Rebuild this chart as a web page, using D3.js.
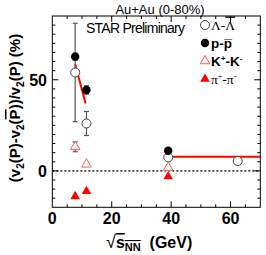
<!DOCTYPE html>
<html>
<head>
<meta charset="utf-8">
<script src="https://cdn.jsdelivr.net/npm/d3@7"></script>
<style>
  body { margin: 0; background: #fff; }
  svg { display: block; font-family: "Liberation Sans", Arial, sans-serif; }
</style>
</head>
<body>
<svg id="chart" width="266" height="255"></svg>
<script>
// values
const lambdaE = [7.7, 11.5, 39, 62.4];
const lambdaV = [54, 26, 7.4, 5.4];
const lambdaErr = [27, 6.6, 0.8, 1];

const protonE = [7.7, 11.5, 39];
const protonV = [62.7, 44.4, 11];
const protonErr = [2, 2.3, 0.6];

const kaonE = [7.7, 11.5, 39];
const kaonV = [13.2, 3.6, 1.8];
const kaonErr = [2.7, 0.5, 0.3];

const pionE = [7.7, 11.5, 39];
const pionV = [-14, -11.2, -3.1];

const fitLow = [[7.7, 58.5], [11.2, 37]];
const fitHigh = [[39.4, 7.8], [70, 7.8]];

const xMajor = [0, 20, 40, 60];
const yMajor = [0, 50];

const svg = d3.select('#chart');
const m = { left: 52.3, right: 260.3, top: 16, bottom: 207.3 };

const x = d3.scaleLinear().domain([0, 70]).range([m.left, m.right]);
const y = d3.scaleLinear().domain([-20, 85]).range([m.bottom, m.top]);

// frame
svg.append('rect')
	.attr('x', m.left).attr('y', m.top)
	.attr('width', m.right - m.left).attr('height', m.bottom - m.top)
	.attr('fill', 'none').attr('stroke', '#000').attr('stroke-width', 1);

// ticks, all pointing inward
const xt = d3.range(5, 70, 5);
const yt = d3.range(-15, 85, 5);
const tick = svg.append('g').attr('stroke', '#000').attr('stroke-width', 1);
xt.forEach(v => {
	const len = xMajor.includes(v) ? 6 : 3;
	tick.append('line').attr('x1', x(v)).attr('x2', x(v)).attr('y1', m.bottom).attr('y2', m.bottom - len);
	tick.append('line').attr('x1', x(v)).attr('x2', x(v)).attr('y1', m.top).attr('y2', m.top + len);
});
yt.forEach(v => {
	const len = yMajor.includes(v) ? 6 : 3;
	tick.append('line').attr('x1', m.left).attr('x2', m.left + len).attr('y1', y(v)).attr('y2', y(v));
	tick.append('line').attr('x1', m.right).attr('x2', m.right - len).attr('y1', y(v)).attr('y2', y(v));
});

// tick labels
svg.append('g').selectAll('text').data(xMajor).join('text')
	.attr('x', d => x(d)).attr('y', 224)
	.attr('text-anchor', 'middle')
	.attr('font-size', 16).attr('font-weight', 'bold')
	.text(d => d);
svg.append('g').selectAll('text').data(yMajor).join('text')
	.attr('x', 47).attr('y', d => y(d) + 6)
	.attr('text-anchor', 'end')
	.attr('font-size', 16).attr('font-weight', 'bold')
	.text(d => d);

// zero line
svg.append('line')
	.attr('x1', x(0)).attr('x2', x(70)).attr('y1', y(0)).attr('y2', y(0))
	.attr('stroke', '#000').attr('stroke-width', 1.2).attr('stroke-dasharray', '2,2');

// fit lines
const line = d3.line().x(d => x(d[0])).y(d => y(d[1]));
[fitLow, fitHigh].forEach(f => {
	svg.append('path').attr('d', line(f)).attr('stroke', '#f00').attr('stroke-width', 2).attr('fill', 'none');
});

// error bars
function errorBars(es, vs, errs) {
	const g = svg.append('g').attr('stroke', '#555').attr('stroke-width', 1.2);
	es.forEach((e, i) => {
		const lo = y(vs[i] - errs[i]), hi = y(vs[i] + errs[i]);
		g.append('line').attr('x1', x(e)).attr('x2', x(e)).attr('y1', lo).attr('y2', hi);
		g.append('line').attr('x1', x(e) - 2.5).attr('x2', x(e) + 2.5).attr('y1', lo).attr('y2', lo);
		g.append('line').attr('x1', x(e) - 2.5).attr('x2', x(e) + 2.5).attr('y1', hi).attr('y2', hi);
	});
}
errorBars(lambdaE, lambdaV, lambdaErr);
errorBars(protonE, protonV, protonErr);
errorBars(kaonE, kaonV, kaonErr);

const tri = d3.symbol().type(d3.symbolTriangle).size(40);

function points(es, vs, draw) {
	es.forEach((e, i) => draw(svg.append('g').attr('transform', `translate(${x(e)},${y(vs[i])})`)));
}
const openCircle = g => g.append('circle').attr('r', 4.5).attr('fill', '#fff').attr('stroke', '#444').attr('stroke-width', 1);
const fullCircle = g => g.append('circle').attr('r', 4.2).attr('fill', '#000');
const openTri = g => g.append('path').attr('d', tri).attr('fill', '#fff').attr('stroke', '#f55').attr('stroke-width', 1);
const fullTri = g => g.append('path').attr('d', tri).attr('fill', '#f00');

points(lambdaE, lambdaV, openCircle);
points(protonE, protonV, fullCircle);
points(kaonE, kaonV, openTri);
points(pionE, pionV, fullTri);

// legend
const legend = [
	{ draw: openCircle, y: 25, bold: false, serif: true },
	{ draw: fullCircle, y: 43, bold: true },
	{ draw: openTri, y: 61, bold: true },
	{ draw: fullTri, y: 79, bold: false, serif: true }
];
legend.forEach(l => l.draw(svg.append('g').attr('transform', `translate(205,${l.y})`)));

function legendText(i) {
	const l = legend[i];
	return svg.append('text').attr('x', 211).attr('y', l.y + 4.5)
		.attr('font-size', 13.5)
		.attr('font-weight', l.bold ? 'bold' : 'normal')
		.attr('font-family', l.serif ? '"Liberation Serif", serif' : null);
}
let t = legendText(0);
t.append('tspan').text('Λ-');
t.append('tspan').attr('text-decoration', 'overline').text('Λ');
t = legendText(1);
t.append('tspan').text('p-');
t.append('tspan').text('p\u0305');
t = legendText(2);
t.append('tspan').text('K');
t.append('tspan').attr('font-size', 8).attr('dy', -5).text('+');
t.append('tspan').attr('dy', 5).text('-K');
t.append('tspan').attr('font-size', 8).attr('dy', -5).text('-');
t = legendText(3);
t.append('tspan').text('π');
t.append('tspan').attr('font-size', 8).attr('dy', -5).text('+');
t.append('tspan').attr('dy', 5).text('-π');
t.append('tspan').attr('font-size', 8).attr('dy', -5).text('-');

// titles
svg.append('text').attr('x', 160).attr('y', 14).attr('text-anchor', 'middle')
	.attr('font-size', 13).text('Au+Au (0-80%)');
svg.append('text').attr('x', 86).attr('y', 33)
	.attr('textLength', 99).attr('font-size', 14).text('STAR Preliminary');

// x label
const xl = svg.append('text').attr('x', 106).attr('y', 248)
	.attr('font-size', 16).attr('font-weight', 'bold');
xl.append('tspan').attr('font-weight', 'normal').attr('font-size', 18).text('√');
xl.append('tspan').attr('text-decoration', 'overline').text('s');
xl.append('tspan').attr('font-size', 11).attr('dy', 3).attr('text-decoration', 'overline').text('NN');
xl.append('tspan').attr('dy', -3).text('\u00a0\u00a0(GeV)');

// y label
const yl = svg.append('text')
	.attr('transform', 'translate(20,108) rotate(-90)')
	.attr('text-anchor', 'middle')
	.attr('font-size', 15).attr('font-weight', 'bold');
const sub = s => { yl.append('tspan').attr('font-size', 10).attr('dy', 4).text(s); };
const nrm = (s, dy) => { yl.append('tspan').attr('dy', dy || 0).text(s); };
nrm('(v');
sub('2');
nrm('(P)-v', -4);
sub('2');
yl.append('tspan').attr('dy', -4).text('(');
yl.append('tspan').attr('text-decoration', 'overline').text('P');
nrm('))/v');
sub('2');
nrm('(P) (%)', -4);
</script>
</body>
</html>
